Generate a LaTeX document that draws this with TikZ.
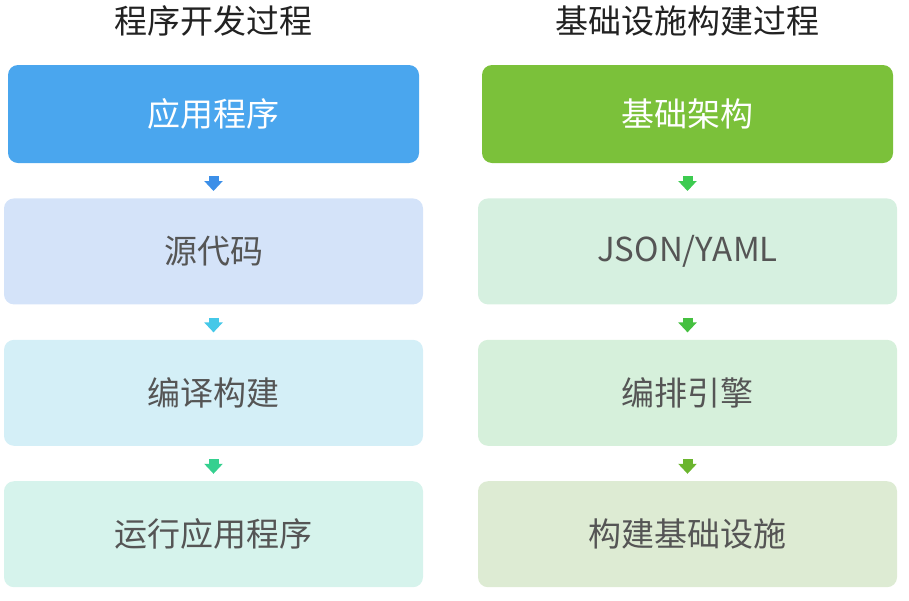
\documentclass[tikz,border=0pt]{standalone}
\usepackage{fontspec}
\newfontfamily\cjk{Noto Sans CJK SC}
\usepackage{xcolor}
\usepackage{tikz}
\usetikzlibrary{arrows.meta, positioning}
\definecolor{devblue}{HTML}{4AA6EE}
\definecolor{devsrc}{HTML}{D4E3F9}
\definecolor{devbuild}{HTML}{D4EFF7}
\definecolor{devrun}{HTML}{D6F3EC}
\definecolor{infgreen}{HTML}{7BC13A}
\definecolor{infjson}{HTML}{D6F0E0}
\definecolor{infengine}{HTML}{D6F0DB}
\definecolor{infbuild}{HTML}{DDEBD3}
\definecolor{arrblue}{HTML}{3C8FE8}
\definecolor{arrcyan}{HTML}{45C8E8}
\definecolor{arrteal}{HTML}{35D08F}
\definecolor{arrgreen}{HTML}{3DCB50}
\definecolor{arrleaf}{HTML}{45C040}
\definecolor{arrolive}{HTML}{6BB52E}
\definecolor{txtgray}{HTML}{555555}
\definecolor{titleblack}{HTML}{222222}
\tikzset{
  stage/.style={rectangle, rounded corners=5pt, inner sep=0pt,
    minimum width=209.5pt, minimum height=53pt,
    font=\cjk\fontsize{16.5}{20}\selectfont, text=txtgray},
  topstage/.style={stage, minimum width=205.5pt, minimum height=49pt, text=white},
  heading/.style={font=\cjk\fontsize{16.5}{20}\selectfont, text=titleblack},
  flow/.style={line width=5pt, -{Triangle[width=9pt,length=5pt]},
    shorten <=6.5pt, shorten >=3.5pt}
}
\begin{document}
\begin{tikzpicture}[x=0.5pt, y=-0.5pt, node distance=17.3pt]
  \useasboundingbox (0,0) rectangle (909,600);

  % program development
  \node[heading] (devtitle) at (213,21) {程序开发过程};
  \node[topstage, fill=devblue] (app) at (213.5,114) {应用程序};
  \node[stage, fill=devsrc, below=of app] (src) {源代码};
  \node[stage, fill=devbuild, below=of src] (compile) {编译构建};
  \node[stage, fill=devrun, below=of compile] (run) {运行应用程序};

  \draw[flow, arrblue] (app) -- (src);
  \draw[flow, arrcyan] (src) -- (compile);
  \draw[flow, arrteal] (compile) -- (run);

  % infrastructure build
  \node[heading] (inftitle) at (687.5,21) {基础设施构建过程};
  \node[topstage, fill=infgreen] (infra) at (687.5,114) {基础架构};
  \node[stage, fill=infjson, below=of infra] (json) {JSON/YAML};
  \node[stage, fill=infengine, below=of json] (engine) {编排引擎};
  \node[stage, fill=infbuild, below=of engine] (deploy) {构建基础设施};

  \draw[flow, arrgreen] (infra) -- (json);
  \draw[flow, arrleaf] (json) -- (engine);
  \draw[flow, arrolive] (engine) -- (deploy);
\end{tikzpicture}
\end{document}
